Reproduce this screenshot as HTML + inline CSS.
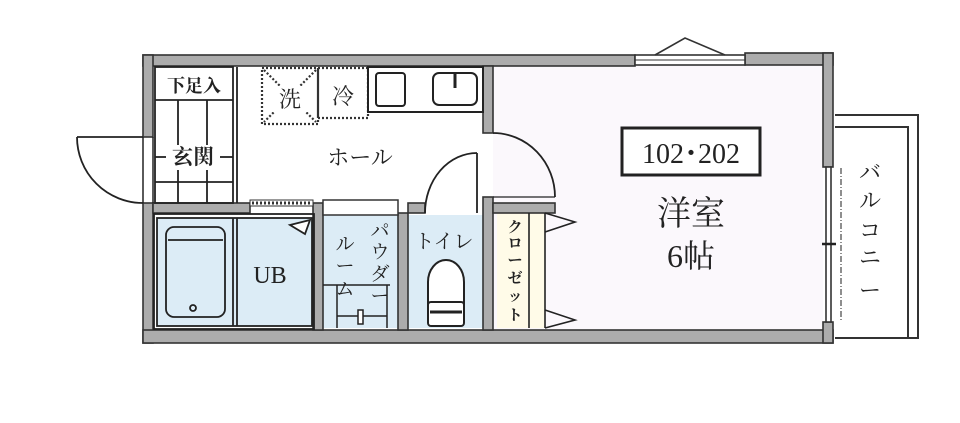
<!DOCTYPE html>
<html><head><meta charset="utf-8"><style>
html,body{margin:0;padding:0;background:#fff;}
svg{display:block;}
text{font-family:"Liberation Serif","Noto Serif CJK SC","Noto Sans CJK JP",serif;fill:#222;}
</style></head><body>
<svg width="960" height="423" viewBox="0 0 960 423" xmlns="http://www.w3.org/2000/svg">
<rect width="960" height="423" fill="#fff"/>
<!-- room fills -->
<rect x="493" y="65" width="330" height="264" fill="#fbf8fc"/>
<rect x="497" y="213" width="48" height="115" fill="#fffbe8"/>
<rect x="157" y="218" width="155" height="108" fill="#dcecf6"/>
<rect x="323" y="215" width="75" height="113" fill="#dcecf6"/>
<rect x="408" y="215" width="75" height="113" fill="#dcecf6"/>
<!-- balcony -->
<path d="M835 115 H918 V338 H835" fill="none" stroke="#333" stroke-width="2"/>
<path d="M835 127 H908 V337" fill="none" stroke="#333" stroke-width="2"/>
<line x1="841" y1="168" x2="841" y2="322" stroke="#444" stroke-width="1.2" stroke-dasharray="6,2,1,2"/>
<!-- outer walls -->
<g fill="#acacac" stroke="#333" stroke-width="1.6">
<rect x="143" y="55" width="492" height="11"/>
<rect x="745" y="53" width="88" height="12"/>
<rect x="143" y="55" width="10" height="82"/>
<rect x="143" y="203" width="10" height="140"/>
<rect x="143" y="330" width="690" height="13"/>
<rect x="823" y="53" width="10" height="114"/>
<rect x="823" y="322" width="10" height="21"/>
<rect x="483" y="66" width="10" height="67"/>
<rect x="483" y="197" width="10" height="133"/>
<rect x="153" y="203" width="97" height="10"/>
<rect x="313" y="203" width="10" height="127"/>
<rect x="398" y="213" width="10" height="117"/>
<rect x="408" y="203" width="17" height="10"/>
<rect x="493" y="203" width="62" height="10"/>
</g>
<!-- top window -->
<rect x="635" y="55" width="110" height="10" fill="#fff" stroke="#333" stroke-width="1.6"/>
<line x1="635" y1="60" x2="745" y2="60" stroke="#333"/>
<path d="M655 55 L685 38 L725 55" fill="none" stroke="#333" stroke-width="1.6"/>
<!-- right window -->
<rect x="826" y="167" width="5" height="155" fill="#fff" stroke="#333" stroke-width="1.6"/>
<line x1="822" y1="244" x2="836" y2="244" stroke="#222" stroke-width="2.5"/>
<!-- hatched segment -->
<rect x="250" y="200" width="63" height="6" fill="#fff" stroke="#333"/>
<line x1="252" y1="203" x2="311" y2="203" stroke="#333" stroke-width="3" stroke-dasharray="2,2"/>
<rect x="323" y="200" width="75" height="15" fill="#fff" stroke="#333" stroke-width="1.5"/>
<!-- entrance door -->
<line x1="77" y1="137" x2="143" y2="137" stroke="#222" stroke-width="1.8"/>
<path d="M77 137 A66 66 0 0 0 143 203" fill="none" stroke="#222" stroke-width="1.8"/>
<line x1="143" y1="137" x2="143" y2="203" stroke="#222" stroke-width="1.5"/>
<line x1="153" y1="137" x2="153" y2="203" stroke="#222" stroke-width="1.5"/>
<!-- genkan -->
<g stroke="#222" stroke-width="1.8" fill="none">
<rect x="155" y="67" width="78" height="136"/>
<line x1="237" y1="67" x2="237" y2="203"/>
<line x1="155" y1="100" x2="233" y2="100"/>
<line x1="155" y1="182" x2="233" y2="182"/>
<line x1="178" y1="100" x2="178" y2="145"/><line x1="178" y1="170" x2="178" y2="203"/>
<line x1="207" y1="100" x2="207" y2="145"/><line x1="207" y1="170" x2="207" y2="203"/>
<line x1="155" y1="157" x2="166" y2="157"/><line x1="220" y1="157" x2="233" y2="157"/>
</g>
<text x="194" y="92" font-size="18" text-anchor="middle" font-weight="bold">下足入</text>
<text x="193" y="164" font-size="21" text-anchor="middle" font-weight="bold">玄関</text>
<!-- washer / fridge -->
<g fill="none" stroke="#333" stroke-width="2.2" stroke-dasharray="2,2">
<rect x="262" y="68" width="56" height="56"/>
<rect x="318" y="68" width="50" height="50"/>
<line x1="264" y1="70" x2="316" y2="122"/><line x1="316" y1="70" x2="264" y2="122"/>
</g>
<rect x="272" y="86" width="36" height="26" fill="#fff"/>
<text x="290" y="107" font-size="22" text-anchor="middle">洗</text>
<text x="343" y="104" font-size="22" text-anchor="middle">冷</text>
<!-- counter -->
<g fill="#fff" stroke="#222" stroke-width="2">
<rect x="368" y="67" width="115" height="45"/>
<rect x="376" y="73" width="29" height="33" rx="3"/>
<rect x="433" y="73" width="44" height="32" rx="6"/>
</g>
<line x1="455" y1="73" x2="455" y2="88" stroke="#222" stroke-width="3"/>
<text x="360" y="165" font-size="22" text-anchor="middle">ホール</text>
<!-- toilet door -->
<line x1="477" y1="153" x2="477" y2="213" stroke="#222" stroke-width="1.8"/>
<path d="M477 153 A52 60 0 0 0 425 213" fill="none" stroke="#222" stroke-width="1.8"/>
<!-- room door -->
<path d="M493 133 A62 64 0 0 1 555 197" fill="none" stroke="#222" stroke-width="1.8"/>
<line x1="493" y1="197" x2="555" y2="197" stroke="#222" stroke-width="1.2"/>
<!-- UB -->
<g fill="none" stroke="#222" stroke-width="1.8">
<rect x="154" y="214" width="160" height="115"/>
<rect x="157" y="218" width="155" height="108"/>
<line x1="233" y1="218" x2="233" y2="326"/><line x1="237" y1="218" x2="237" y2="326"/>
<rect x="166" y="227" width="59" height="90" rx="8"/>
<line x1="168" y1="240" x2="223" y2="240"/>
<circle cx="193" cy="308" r="3"/>
<path d="M310 220 L290 225 L305 234 Z" fill="#fff"/>
</g>
<text x="270" y="283" font-size="24" text-anchor="middle">UB</text>
<!-- powder -->
<g fill="none" stroke="#222" stroke-width="1.5">
<line x1="323" y1="285" x2="390" y2="285"/>
<line x1="337" y1="285" x2="337" y2="328"/><line x1="387" y1="285" x2="387" y2="328"/>
<line x1="337" y1="316" x2="387" y2="316"/>
<rect x="358" y="310" width="5" height="14" fill="#fff"/>
</g>
<text font-size="19" text-anchor="middle"><tspan x="380" y="237">パ</tspan><tspan x="380" y="258">ウ</tspan><tspan x="380" y="280">ダ</tspan><tspan x="380" y="302">ー</tspan></text>
<text font-size="19" text-anchor="middle"><tspan x="345" y="250">ル</tspan><tspan x="345" y="272">ー</tspan><tspan x="345" y="295">ム</tspan></text>
<!-- toilet -->
<text x="444" y="248" font-size="20" text-anchor="middle">トイレ</text>
<g fill="#fff" stroke="#222" stroke-width="2">
<path d="M428 305 V282 A18 22 0 0 1 464 282 V305"/>
<rect x="428" y="302" width="36" height="24" rx="3"/>
</g>
<line x1="430" y1="312" x2="462" y2="312" stroke="#222" stroke-width="3"/>
<!-- closet -->
<g fill="none" stroke="#222" stroke-width="1.6">
<line x1="529" y1="213" x2="529" y2="328"/><line x1="545" y1="213" x2="545" y2="328"/>
<path d="M545 213 L575 222 L545 232"/>
<path d="M545 310 L575 320 L545 328"/>
</g>
<text font-size="15" text-anchor="middle" font-weight="bold"><tspan x="515" y="232">ク</tspan><tspan x="515" y="248">ロ</tspan><tspan x="515" y="265">ー</tspan><tspan x="515" y="283">ゼ</tspan><tspan x="515" y="301">ッ</tspan><tspan x="515" y="320">ト</tspan></text>
<!-- main room labels -->
<rect x="622" y="128" width="138" height="47" fill="#fff" stroke="#222" stroke-width="3"/>
<text x="691" y="163" font-size="28" text-anchor="middle">102･202</text>
<text x="691" y="225" font-size="34" text-anchor="middle">洋室</text>
<text x="691" y="267" font-size="32" text-anchor="middle">6帖</text>
<text font-size="22" text-anchor="middle"><tspan x="870" y="180">バ</tspan><tspan x="870" y="208">ル</tspan><tspan x="870" y="238">コ</tspan><tspan x="870" y="265">ニ</tspan><tspan x="870" y="298">ー</tspan></text>
</svg>
</body></html>
